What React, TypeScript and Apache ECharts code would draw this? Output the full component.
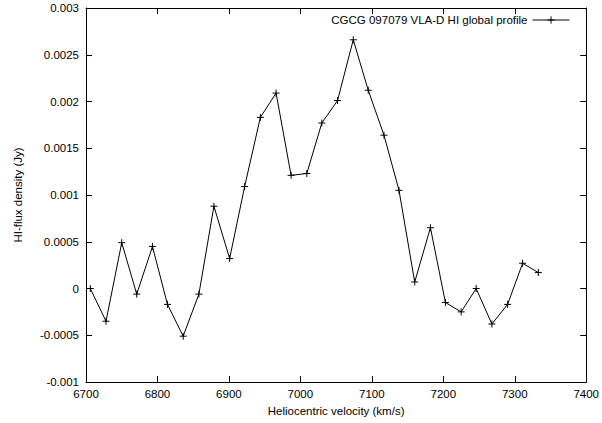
import React, { useEffect, useRef } from "react";
import * as echarts from "echarts";

const velocities = [
  6706, 6728, 6750, 6771, 6793, 6814, 6836, 6858, 6879, 6901,
  6922, 6944, 6966, 6987, 7009, 7030, 7052, 7074, 7095, 7117,
  7138, 7160, 7182, 7203, 7225, 7246, 7268, 7290, 7311, 7333,
];
const fluxes = [
  0.0, -0.00035, 0.00049, -0.00006, 0.00045, -0.00017, -0.00051, -0.00006, 0.00088, 0.00032,
  0.00109, 0.00183, 0.00209, 0.00121, 0.00123, 0.00177, 0.00201, 0.00266, 0.00212, 0.00164,
  0.00105, 0.00007, 0.00065, -0.00015, -0.00025, 0.0, -0.00038, -0.00017, 0.00027, 0.00017,
];
const seriesName = "CGCG 097079 VLA-D HI global profile";
const xTitle = "Heliocentric velocity (km/s)";
const yTitle = "HI-flux density (Jy)";

const FONT = "Liberation Sans, Arial, Helvetica, sans-serif";
const FS = 11.5;

export default function App() {
  const ref = useRef<HTMLDivElement>(null);
  useEffect(() => {
    if (!ref.current) return;
    const chart = echarts.init(ref.current, null, { renderer: "svg" });
    const axisLine = { show: true, onZero: false, lineStyle: { color: "#000", width: 1 } };
    const tick = { show: true, inside: true, length: 6, lineStyle: { color: "#000", width: 1 } };
    const fmtY = (v: number) => String(parseFloat(v.toPrecision(6)));
    const fmtX = (v: number) => String(v);
    chart.setOption({
      animation: false,
      backgroundColor: "#fff",
      textStyle: { fontFamily: FONT },
      grid: { left: 86, right: 13, top: 8, bottom: 41 },
      legend: {
        show: true,
        right: 27,
        top: 9,
        align: "right",
        selectedMode: false,
        itemWidth: 37,
        itemHeight: 9,
        itemGap: 4,
        lineStyle: { width: 1, color: "#000" },
        itemStyle: { color: "#000", borderColor: "#000", borderWidth: 1 },
        textStyle: { fontFamily: FONT, fontSize: FS, color: "#000" },
        data: [seriesName],
      },
      xAxis: [
        {
          type: "value",
          min: 6700,
          max: 7400,
          interval: 100,
          axisLine,
          axisTick: tick,
          splitLine: { show: false },
          axisLabel: { color: "#000", fontSize: FS, fontFamily: FONT, margin: 6, formatter: fmtX },
          name: xTitle,
          nameLocation: "middle",
          nameGap: 23,
          nameTextStyle: { color: "#000", fontSize: FS, fontFamily: FONT },
        },
        {
          type: "value",
          position: "top",
          min: 6700,
          max: 7400,
          interval: 100,
          axisLine,
          axisTick: tick,
          splitLine: { show: false },
          axisLabel: { show: false },
        },
      ],
      yAxis: [
        {
          type: "value",
          min: -0.001,
          max: 0.003,
          interval: 0.0005,
          axisLine,
          axisTick: tick,
          splitLine: { show: false },
          axisLabel: { color: "#000", fontSize: FS, fontFamily: FONT, margin: 7, formatter: fmtY },
          name: yTitle,
          nameLocation: "middle",
          nameRotate: 90,
          nameGap: 62,
          nameTextStyle: { color: "#000", fontSize: FS, fontFamily: FONT },
        },
        {
          type: "value",
          position: "right",
          min: -0.001,
          max: 0.003,
          interval: 0.0005,
          axisLine,
          axisTick: tick,
          splitLine: { show: false },
          axisLabel: { show: false },
        },
      ],
      series: [
        {
          name: seriesName,
          type: "line",
          xAxisIndex: 0,
          yAxisIndex: 0,
          data: velocities.map((v, i) => [v, fluxes[i]]),
          symbol: "path://M3.5,0 L3.5,7 M0,3.5 L7,3.5",
          symbolSize: 7,
          showSymbol: true,
          lineStyle: { color: "#000", width: 1 },
          itemStyle: { color: "#000", borderColor: "#000", borderWidth: 1 },
          emphasis: { disabled: true },
        },
      ],
    });
    return () => chart.dispose();
  }, []);
  return (
    <div
      ref={ref}
      style={{ position: "absolute", left: 0, top: 0, width: 602, height: 423, background: "#fff" }}
    />
  );
}
